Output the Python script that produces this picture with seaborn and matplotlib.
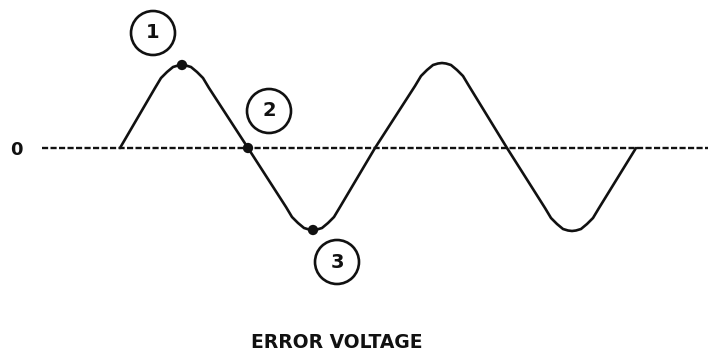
import matplotlib.pyplot as plt
from matplotlib.patches import Circle
import seaborn as sns
import pandas as pd

# waveform (time in px-like units, voltage above the 0 line)
wave_t = [120,
          155, 161, 167, 173, 178, 182, 186, 191, 197, 203, 209,
          248,
          286, 292, 298, 304, 309, 313, 317, 322, 328, 334, 340,
          375,
          415, 421, 427, 433, 438, 442, 446, 451, 457, 463, 469,
          507,
          545, 551, 557, 563, 568, 572, 576, 581, 587, 593, 599,
          636]
wave_v = [0,
          60, 70, 76, 81, 82.5, 83, 82.5, 81, 76, 70, 60,
          0,
          -59, -69, -75, -80, -81.5, -82, -81.5, -80, -75, -69, -59,
          0,
          62, 72, 78, 83, 84.5, 85, 84.5, 83, 78, 72, 62,
          0,
          -60, -70, -76, -81, -82.5, -83, -82.5, -81, -76, -70, -60,
          0]

# marked points 1, 2, 3
mark_t = [182, 248, 313]
mark_v = [83, 0, -82]

# numbered circles
label_names = ['1', '2', '3']
label_t = [153, 269, 337]
label_v = [115, 37, -114]

zero_line_t = [42, 708]
x_title = 'ERROR VOLTAGE'

sns.set_theme(style='white')
plt.rcParams['font.family'] = ['DejaVu Sans']

fig = plt.figure(figsize=(7.08, 3.56), dpi=100)
ax = fig.add_axes([0, 0, 1, 1])

# dashed zero reference
ax.plot(zero_line_t, [0, 0], color='#111111', lw=1.7, ls=(0, (2.6, 1.0)))

df = pd.DataFrame({'t': wave_t, 'v': wave_v})
sns.lineplot(data=df, x='t', y='v', ax=ax, color='#111111', lw=1.9,
             sort=False, estimator=None)

sns.scatterplot(x=mark_t, y=mark_v, ax=ax, color='#111111', s=55,
                edgecolor='none', zorder=5)

for name, t, v in zip(label_names, label_t, label_v):
    ax.add_patch(Circle((t, v), 22, fill=False, ec='#111111', lw=1.9))
    ax.text(t, v, name, ha='center', va='center', fontsize=14,
            fontweight='bold', color='#111111')

ax.text(16, -2, '0', ha='center', va='center', fontsize=13,
        fontweight='bold', color='#111111')
ax.text(337, -195, x_title, ha='center', va='center', fontsize=13.5,
        fontweight='bold', color='#111111')

ax.set_xlim(0, 708)
ax.set_ylim(-208, 148)
ax.axis('off')

fig.savefig('out.png', dpi=100, facecolor='white')
